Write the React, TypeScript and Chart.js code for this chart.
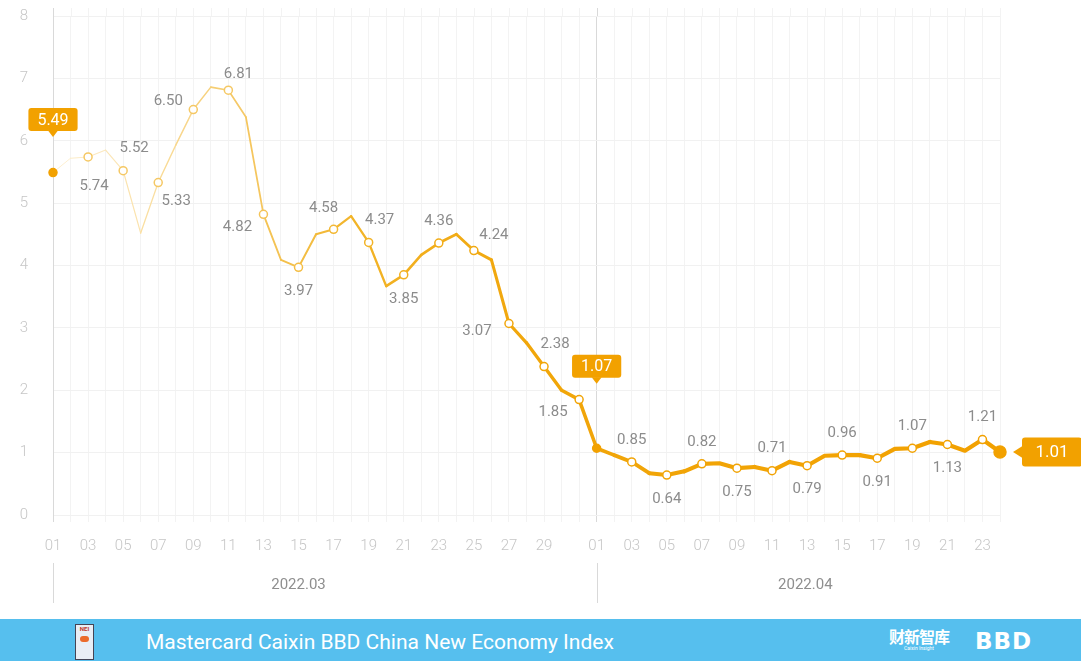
import React, { useEffect, useRef } from 'react';
import { Chart, registerables } from 'chart.js';

Chart.register(...registerables);

// ---------- DATA ----------
const marchDays = ['01','02','03','04','05','06','07','08','09','10','11','12','13','14','15','16','17','18','19','20','21','22','23','24','25','26','27','28','29','30','31'];
const aprilDays = ['01','02','03','04','05','06','07','08','09','10','11','12','13','14','15','16','17','18','19','20','21','22','23','24'];
const marchValues = [5.49, 5.72, 5.74, 5.85, 5.52, 4.52, 5.33, 5.93, 6.50, 6.86, 6.81, 6.38, 4.82, 4.09, 3.97, 4.50, 4.58, 4.79, 4.37, 3.67, 3.85, 4.17, 4.36, 4.50, 4.24, 4.09, 3.07, 2.76, 2.38, 2.00, 1.85];
const aprilValues = [1.07, 0.96, 0.85, 0.67, 0.64, 0.70, 0.82, 0.83, 0.75, 0.77, 0.71, 0.85, 0.79, 0.95, 0.96, 0.96, 0.91, 1.06, 1.07, 1.17, 1.13, 1.03, 1.21, 1.01];
const monthLabels = ['2022.03', '2022.04'];
const yTicks = [0, 1, 2, 3, 4, 5, 6, 7, 8];

const days = [...marchDays, ...aprilDays];
const values = [...marchValues, ...aprilValues];
const monthStart = [0, marchDays.length];
const N = values.length;

// ---------- STYLE CONFIG ----------
const ORANGE = '#f2a100';
const labelPlacement: Record<number, string> = {
  2: 'S2', 4: 'NE', 6: 'SE', 8: 'W', 10: 'NE3', 12: 'SW', 14: 'S', 16: 'NW', 18: 'NE',
  20: 'S', 22: 'N', 24: 'NE2', 26: 'SW2', 28: 'NE', 30: 'SW',
  33: 'N', 35: 'S', 37: 'N', 39: 'S', 41: 'N', 43: 'S', 45: 'N', 47: 'S', 49: 'N', 51: 'S', 53: 'N',
};
const placementOffset: Record<string, [number, number]> = {
  N: [0, -22], S: [0, 24], S2: [6, 29], NE: [11, -22], NE2: [20, -15], NE3: [10, -16], SE: [18, 19],
  W: [-25, -8], SW: [-26, 13], SW2: [-32, 8], NW: [-10, -21],
};
const callouts = [
  { index: 0, side: 'top', rise: 53 },
  { index: monthStart[1], side: 'top', rise: 82 },
  { index: N - 1, side: 'right', rise: 0 },
];
const monthCenterIdx = [14, 42.9];

const stops: [number, number[]][] = [
  [0, [253, 240, 212]],
  [0.08, [251, 228, 176]],
  [0.2, [245, 200, 100]],
  [0.32, [242, 180, 40]],
  [0.5, [241, 166, 10]],
  [1, [242, 161, 0]],
];
function colorAt(t: number): string {
  t = Math.max(0, Math.min(1, t));
  for (let i = 1; i < stops.length; i++) {
    if (t <= stops[i][0]) {
      const [t0, c0] = stops[i - 1];
      const [t1, c1] = stops[i];
      const f = (t - t0) / (t1 - t0);
      const c = c0.map((v, k) => Math.round(v + (c1[k] - v) * f));
      return `rgb(${c[0]},${c[1]},${c[2]})`;
    }
  }
  const c = stops[stops.length - 1][1];
  return `rgb(${c[0]},${c[1]},${c[2]})`;
}
function widthAt(i: number): number {
  const t = Math.min(1, i / 36);
  return 1 + 3.2 * Math.pow(t, 1.2);
}
const filled = new Set([0, monthStart[1]]);
function isMarker(i: number) {
  return labelPlacement[i] !== undefined;
}

function roundRect(c: CanvasRenderingContext2D, x: number, y: number, w: number, h: number, r: number) {
  c.beginPath();
  c.moveTo(x + r, y);
  c.lineTo(x + w - r, y);
  c.quadraticCurveTo(x + w, y, x + w, y + r);
  c.lineTo(x + w, y + h - r);
  c.quadraticCurveTo(x + w, y + h, x + w - r, y + h);
  c.lineTo(x + r, y + h);
  c.quadraticCurveTo(x, y + h, x, y + h - r);
  c.lineTo(x, y + r);
  c.quadraticCurveTo(x, y, x + r, y);
  c.closePath();
}

const extrasPlugin = {
  id: 'extras',
  beforeDatasetsDraw(chart: any) {
    const { ctx, chartArea, scales } = chart;
    ctx.save();
    for (let i = 0; i < N; i++) {
      const x = Math.round(scales.x.getPixelForValue(i)) + 0.5;
      ctx.strokeStyle = i === 0 || i === monthStart[1] ? '#d9d9d9' : '#f3f3f3';
      ctx.lineWidth = 1;
      ctx.beginPath();
      ctx.moveTo(x, chartArea.top - 8);
      ctx.lineTo(x, chartArea.top);
      ctx.stroke();
    }
    ctx.strokeStyle = '#d9d9d9';
    monthStart.forEach((s) => {
      const x = Math.round(scales.x.getPixelForValue(s)) + 0.5;
      ctx.beginPath();
      ctx.moveTo(x, chartArea.bottom + 48);
      ctx.lineTo(x, chartArea.bottom + 88);
      ctx.stroke();
    });
    ctx.fillStyle = '#8f8f8f';
    ctx.font = '15px Roboto';
    ctx.textAlign = 'center';
    ctx.textBaseline = 'middle';
    monthLabels.forEach((m, k) => {
      const x = scales.x.getPixelForValue(monthCenterIdx[k]);
      ctx.fillText(m, x, chartArea.bottom + 70);
    });
    ctx.restore();
  },
  afterDatasetsDraw(chart: any) {
    const { ctx } = chart;
    const meta = chart.getDatasetMeta(0);
    ctx.save();
    ctx.font = '15px Roboto';
    ctx.fillStyle = '#8c8c8c';
    ctx.textAlign = 'center';
    ctx.textBaseline = 'middle';
    Object.keys(labelPlacement).forEach((k) => {
      const i = Number(k);
      const pt = meta.data[i];
      const [dx, dy] = placementOffset[labelPlacement[i]];
      ctx.fillText(values[i].toFixed(2), pt.x + dx, pt.y + dy);
    });
    callouts.forEach((co) => {
      const pt = meta.data[co.index];
      const text = values[co.index].toFixed(2);
      ctx.fillStyle = ORANGE;
      if (co.side === 'top') {
        ctx.font = '16px Roboto';
        const w = ctx.measureText(text).width + 18;
        const h = 23;
        const cy = pt.y - co.rise;
        const bx = pt.x - w / 2;
        const by = cy - h / 2;
        roundRect(ctx, bx, by, w, h, 3);
        ctx.fill();
        ctx.beginPath();
        ctx.moveTo(pt.x - 5, by + h - 0.5);
        ctx.lineTo(pt.x, by + h + 6);
        ctx.lineTo(pt.x + 5, by + h - 0.5);
        ctx.closePath();
        ctx.fill();
        ctx.fillStyle = '#ffffff';
        ctx.fillText(text, pt.x, cy + 1);
      } else {
        ctx.font = '17px Roboto';
        const w = 60;
        const h = 29;
        const bx = pt.x + 22;
        const by = pt.y - h / 2;
        roundRect(ctx, bx, by, w, h, 3);
        ctx.fill();
        ctx.beginPath();
        ctx.moveTo(bx + 0.5, pt.y - 6);
        ctx.lineTo(bx - 9, pt.y);
        ctx.lineTo(bx + 0.5, pt.y + 6);
        ctx.closePath();
        ctx.fill();
        ctx.fillStyle = '#ffffff';
        ctx.fillText(text, bx + w / 2, pt.y + 1);
      }
    });
    ctx.restore();
  },
};

export default function App() {
  const ref = useRef<HTMLCanvasElement | null>(null);
  useEffect(() => {
    if (!ref.current) return;
    const chart = new Chart(ref.current, {
      type: 'line',
      data: {
        labels: days.map((d, i) => (i < monthStart[1] ? monthLabels[0] : monthLabels[1]) + '.' + d),
        datasets: [
          {
            data: values,
            borderColor: ORANGE,
            borderWidth: 3,
            borderCapStyle: 'round',
            borderJoinStyle: 'round',
            tension: 0,
            segment: {
              borderColor: (c: any) => colorAt((c.p0DataIndex + 0.5) / (N - 1)),
              borderWidth: (c: any) => widthAt(c.p0DataIndex),
            },
            pointRadius: (c: any) => (c.dataIndex === N - 1 ? 6 : filled.has(c.dataIndex) ? 4 : isMarker(c.dataIndex) ? 4 : 0),
            pointBackgroundColor: (c: any) => (filled.has(c.dataIndex) || c.dataIndex === N - 1 ? ORANGE : '#ffffff'),
            pointBorderColor: (c: any) => (filled.has(c.dataIndex) || c.dataIndex === N - 1 ? ORANGE : colorAt(Math.max(0.2, c.dataIndex / (N - 1)))),
            pointBorderWidth: 1.5,
            pointHoverRadius: 0,
          } as any,
        ],
      },
      options: {
        animation: false,
        responsive: false,
        events: [],
        layout: { padding: { top: 16, right: 81, left: 0, bottom: 0 } },
        plugins: { legend: { display: false }, tooltip: { enabled: false } },
        scales: {
          x: {
            type: 'category',
            offset: false,
            afterFit: (s: any) => { s.height = 104; s.paddingLeft = 0; s.paddingRight = 0; },
            border: { display: false },
            grid: {
              color: (c: any) => (c.index === 0 || c.index === monthStart[1] ? '#d9d9d9' : '#f3f3f3'),
              tickLength: 7,
              drawTicks: true,
            },
            ticks: {
              autoSkip: false,
              maxRotation: 0,
              minRotation: 0,
              padding: 15,
              color: '#c6c6c6',
              font: { family: 'Roboto', size: 15, weight: 300 as any },
              callback: (v: any, i: number) => {
                const d = days[i];
                const n = parseInt(d, 10);
                const last = i === monthStart[1] - 1;
                return n % 2 === 1 && !last ? d : '';
              },
            },
          },
          y: {
            min: 0,
            max: 8,
            afterFit: (s: any) => { s.width = 53; s.paddingTop = 0; s.paddingBottom = 0; },
            afterBuildTicks: (s: any) => { s.ticks = yTicks.map((v) => ({ value: v })); },
            border: { display: true, color: '#d9d9d9' },
            grid: { color: '#f1f1f1', drawTicks: false },
            ticks: {
              padding: 25,
              color: '#c6c6c6',
              font: { family: 'Roboto', size: 15, weight: 300 as any },
            },
          },
        },
      },
      plugins: [extrasPlugin],
    } as any);
    return () => chart.destroy();
  }, []);

  return (
    <div style={{ position: 'absolute', left: 0, top: 0, width: 1081, height: 661, background: '#ffffff', overflow: 'hidden' }}>
      <canvas ref={ref} width={1081} height={619} style={{ display: 'block', width: 1081, height: 619 }} />
      <div style={{ position: 'absolute', left: 0, top: 619, width: 1081, height: 42, background: '#56bfee', fontFamily: 'Roboto, sans-serif', color: '#ffffff' }}>
        <div style={{ position: 'absolute', left: 75, top: 5, width: 19, height: 36, background: '#e9eef5', border: '1px solid #445', boxSizing: 'border-box', fontSize: 6, lineHeight: '8px', textAlign: 'center', color: '#c0392b', fontWeight: 700 }}>
          NEI
          <div style={{ margin: '3px auto 0', width: 9, height: 6, borderRadius: 3, background: '#eb6a2b' }} />
        </div>
        <div style={{ position: 'absolute', left: 146, top: 0, lineHeight: '46px', fontSize: 21, whiteSpace: 'nowrap' }}>
          Mastercard Caixin BBD China New Economy Index
        </div>
        <div style={{ position: 'absolute', left: 889, top: 8, fontFamily: '"Noto Sans CJK SC"', fontSize: 16, lineHeight: '18px', fontWeight: 700, letterSpacing: -1 }}>
          财新智库
          <div style={{ fontFamily: 'Roboto', fontSize: 5, lineHeight: '6px', fontWeight: 400, textAlign: 'center', letterSpacing: 0 }}>Caixin Insight</div>
        </div>
        <div style={{ position: 'absolute', left: 975, top: 0, lineHeight: '44px', fontSize: 23, fontWeight: 900, letterSpacing: 1, fontFamily: '"DejaVu Sans", sans-serif' }}>
          BBD
        </div>
      </div>
    </div>
  );
}
